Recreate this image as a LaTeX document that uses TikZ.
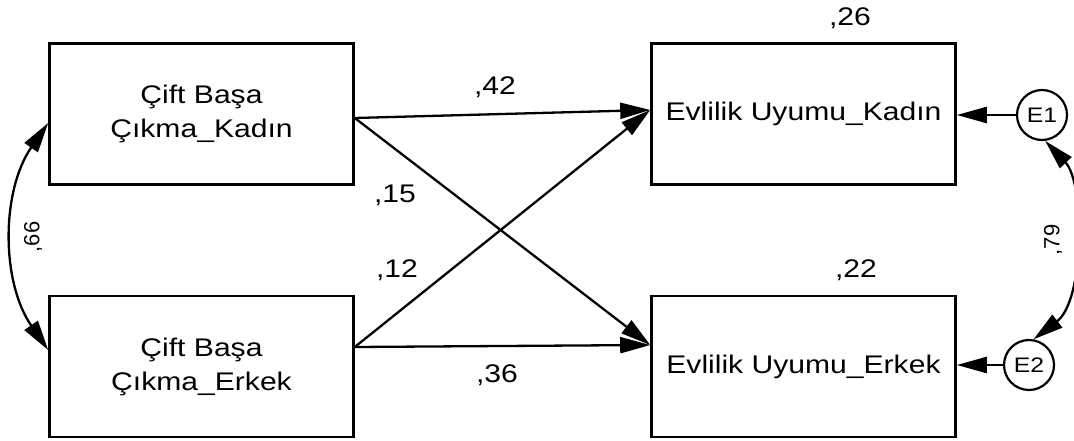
\documentclass[tikz,border=0pt]{standalone}
\usepackage{fontspec}
\setmainfont{Liberation Sans}
\usetikzlibrary{arrows.meta,calc}
\newcommand\sx[1]{\scalebox{1.18}[1]{#1}}
\begin{document}
\begin{tikzpicture}[x=1pt,y=-1pt,
  box/.style={draw, line width=2.6pt, minimum width=304pt, minimum height=141pt, inner sep=0pt,
    font=\fontsize{25.5}{34}\selectfont, align=center},
  err/.style={draw, circle, line width=2.2pt, minimum size=50pt, inner sep=0pt,
    font=\fontsize{21}{24}\selectfont},
  tip/.tip={Triangle[length=30pt,width=16pt]},
  pth/.style={-tip, line width=2.3pt},
  cov/.style={tip-tip, line width=2.3pt},
  lbl/.style={font=\fontsize{25.5}{30}\selectfont, inner sep=0pt},
  rlbl/.style={font=\fontsize{22}{25}\selectfont, inner sep=0pt, rotate=90}]
\useasboundingbox (0,0) rectangle (1074,441);
% boxes
\node[box] (lt) at (201.5,114) {\sx{Çift Başa}\\\sx{Çıkma\_Kadın}};
\node[box] (lb) at (201.5,366.5) {\sx{Çift Başa}\\\sx{Çıkma\_Erkek}};
\node[box] (rt) at (803.5,114) {\sx{Evlilik Uyumu\_Kadın}};
\node[box] (rb) at (803.5,366.5) {\sx{Evlilik Uyumu\_Erkek}};
\node[err] (e1) at (1042,115) {\sx{E1}};
\node[err] (e2) at (1029,365) {\sx{E2}};
% paths
\draw[pth] ([yshift=-4pt]lt.east) -- ([yshift=4pt]rt.west);
\draw[pth] ([yshift=-4pt]lt.east) -- ([yshift=21.5pt]rb.west);
\draw[pth] ([yshift=19.5pt]lb.east) -- ([yshift=4pt]rt.west);
\draw[pth] ([yshift=19.5pt]lb.east) -- ([yshift=21.5pt]rb.west);
\draw[pth] (e1) -- (e1 -| rt.east);
\draw[pth] (e2) -- (e2 -| rb.east);
% covariances
\draw[cov] ([yshift=-9pt]lt.west) .. controls (1,191) and (1,282) .. ([yshift=16.5pt]lb.west);
\draw[cov] (e1.-83) .. controls (1085,183) and (1085,300) .. (e2.80);
% labels
\node[lbl] (l42) at (495,87) {\sx{,42}};
\node[lbl] (l15) at (395,195) {\sx{,15}};
\node[lbl] (l12) at (397,270) {\sx{,12}};
\node[lbl] (l36) at (497,375) {\sx{,36}};
\node[lbl] (l26) at (850,18) {\sx{,26}};
\node[lbl] (l22) at (856,270) {\sx{,22}};
\node[rlbl] (l66) at (33,237) {,66};
\node[rlbl] (l79) at (1053,240) {,79};
\end{tikzpicture}
\end{document}
